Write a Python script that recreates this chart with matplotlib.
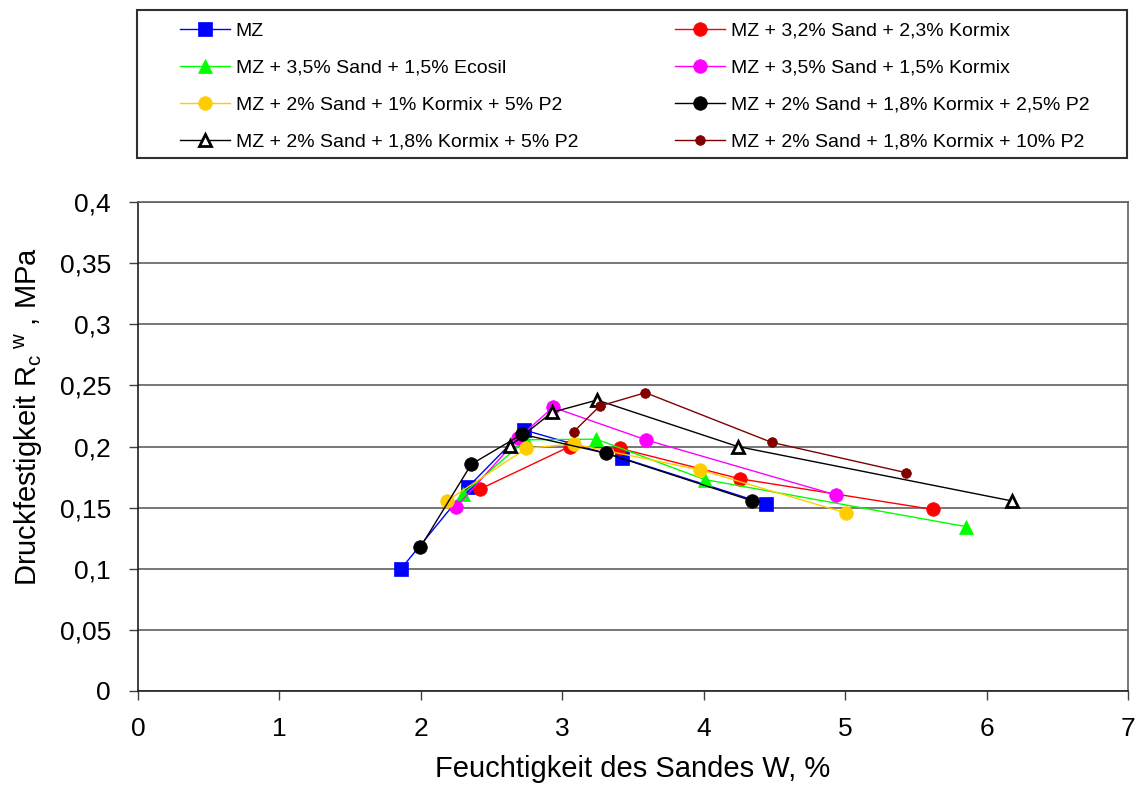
import matplotlib
matplotlib.use("Agg")
import matplotlib.pyplot as plt
from matplotlib.patches import Rectangle
from matplotlib.ticker import FuncFormatter

plt.rcParams['font.family'] = ['Liberation Sans', 'DejaVu Sans']
plt.rcParams['mathtext.fontset'] = 'custom'
plt.rcParams['mathtext.rm'] = 'Liberation Sans'
plt.rcParams['mathtext.it'] = 'Liberation Sans'

labels = [
    "MZ",
    "MZ + 3,2% Sand + 2,3% Kormix",
    "MZ + 3,5% Sand + 1,5% Ecosil",
    "MZ + 3,5% Sand + 1,5% Kormix",
    "MZ + 2% Sand + 1% Kormix + 5% P2",
    "MZ + 2% Sand + 1,8% Kormix + 2,5% P2",
    "MZ + 2% Sand + 1,8% Kormix + 5% P2",
    "MZ + 2% Sand + 1,8% Kormix + 10% P2",
]

x_mz = [1.86, 2.335, 2.73, 3.425, 4.437]
y_mz = [0.100, 0.167, 0.2135, 0.1905, 0.153]

x_red = [2.415, 3.053, 3.406, 4.26, 5.62]
y_red = [0.165, 0.200, 0.1985, 0.1735, 0.1485]

x_green = [2.295, 2.745, 3.241, 4.006, 5.853]
y_green = [0.161, 0.2055, 0.206, 0.173, 0.1345]

x_mag = [2.25, 2.69, 2.934, 3.595, 4.937]
y_mag = [0.1505, 0.207, 0.232, 0.2053, 0.1603]

x_yel = [2.184, 2.746, 3.081, 3.977, 5.008]
y_yel = [0.1555, 0.1985, 0.202, 0.1808, 0.1455]

x_blk = [1.996, 2.357, 2.715, 3.307, 4.338]
y_blk = [0.1175, 0.1855, 0.210, 0.1945, 0.1557]

x_tri = [2.63, 2.928, 3.246, 4.24, 6.178]
y_tri = [0.2005, 0.228, 0.238, 0.200, 0.1555]

x_drd = [3.081, 3.265, 3.588, 4.48, 5.43]
y_drd = [0.2121, 0.2331, 0.244, 0.2034, 0.1786]

xs = [x_mz, x_red, x_green, x_mag, x_yel, x_blk, x_tri, x_drd]
ys = [y_mz, y_red, y_green, y_mag, y_yel, y_blk, y_tri, y_drd]
colors = ['#0000FF', '#FF0000', '#00FF00', '#FF00FF', '#FFCC00', '#000000', '#000000', '#800000']
markers = ['s', 'o', '^', 'o', 'o', 'o', '^', 'o']
msizes = [9.5, 9.8, 9.5, 9.8, 9.8, 9.8, 9, 7]

x_ticks = [0, 1, 2, 3, 4, 5, 6, 7]
y_ticks = [0, 0.05, 0.1, 0.15, 0.2, 0.25, 0.3, 0.35, 0.4]

W, H = 1137, 799
fig = plt.figure(figsize=(W / 100, H / 100), dpi=100)
ax = fig.add_axes([138 / W, 1 - 691 / H, (1128 - 138) / W, (691 - 202) / H])

handles = []
for i in range(len(labels)):
    mfc = 'white' if i == 6 else colors[i]
    mew = 2 if i == 6 else 0.5
    h, = ax.plot(xs[i], ys[i], color=colors[i], lw=1.0, marker=markers[i],
                 markersize=msizes[i], markerfacecolor=mfc, markeredgecolor=colors[i],
                 markeredgewidth=mew, label=labels[i], zorder=3 + i * 0.1)
    handles.append(h)

ax.set_xlim(0, 7)
ax.set_ylim(0, 0.4)
ax.set_xticks(x_ticks)
ax.set_yticks(y_ticks)
fmt = FuncFormatter(lambda v, p: ('%g' % v).replace('.', ','))
ax.yaxis.set_major_formatter(fmt)
ax.xaxis.set_major_formatter(fmt)
ax.tick_params(axis='both', labelsize=19, direction='out', length=6.5, width=1, color='#404040')
ax.tick_params(axis='y', pad=13)
ax.tick_params(axis='x', pad=12)
ax.grid(axis='y', color='#606060', lw=1.2)
ax.set_axisbelow(True)
for s in ['left', 'bottom']:
    ax.spines[s].set_color('#202020')
    ax.spines[s].set_linewidth(1.2)
for s in ['right', 'top']:
    ax.spines[s].set_color('#606060')
    ax.spines[s].set_linewidth(1.2)

ax.set_xlabel("Feuchtigkeit des Sandes W, %", fontsize=21, labelpad=10)
ax.set_ylabel(r"Druckfestigkeit R$_\mathrm{c}{}^{\ \mathrm{w}}$ , MPa", fontsize=21)
ax.yaxis.set_label_coords(-0.094, 0.562)

# legend frame
fig.patches.append(Rectangle((137 / W, 1 - 158 / H), (1127 - 137) / W, 148 / H,
                             transform=fig.transFigure, facecolor='white', edgecolor='#303030', lw=1.5, zorder=1))

col1 = [0, 2, 4, 6]
col2 = [1, 3, 5, 7]
common = dict(frameon=False, fontsize=14, loc='upper left', handlelength=2.57,
              handletextpad=0.3, labelspacing=1.0, borderpad=0, borderaxespad=0)
leg1 = fig.legend([handles[i] for i in col1], [labels[i] for i in col1],
                  bbox_to_anchor=(180 / W, 1 - 22 / H), **common)
leg2 = fig.legend([handles[i] for i in col2], [labels[i] for i in col2],
                  bbox_to_anchor=(675 / W, 1 - 22 / H), **common)
leg1.set_zorder(2)
leg2.set_zorder(2)

fig.savefig("out.png", dpi=100)
